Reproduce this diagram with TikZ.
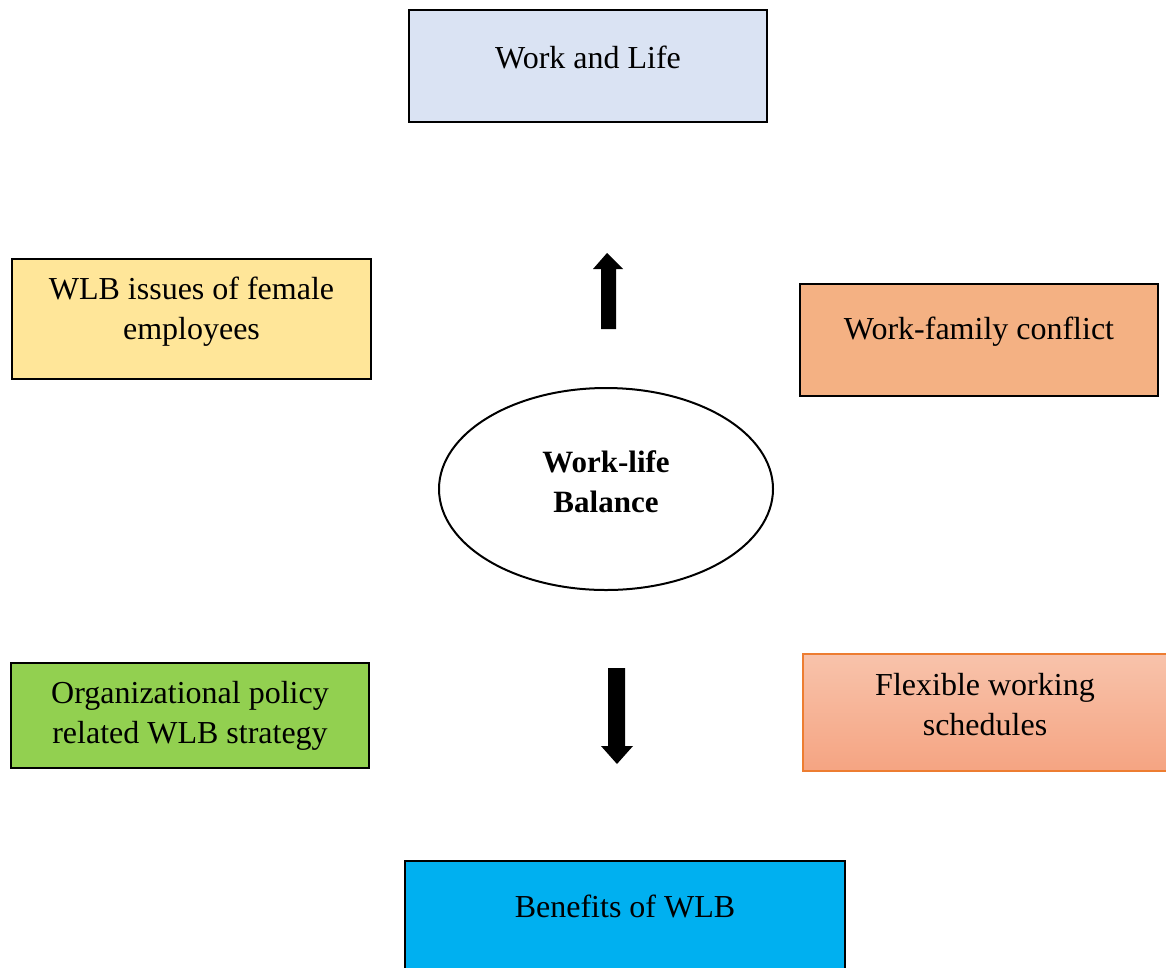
\documentclass[tikz,border=0pt]{standalone}
\usepackage{fontspec}
\setmainfont{Liberation Serif}
\usetikzlibrary{shapes.geometric}
\definecolor{cWL}{HTML}{DAE3F3}
\definecolor{cFem}{HTML}{FFE699}
\definecolor{cWFC}{HTML}{F4B183}
\definecolor{cOrg}{HTML}{92D050}
\definecolor{cFlexTop}{HTML}{F8C3AB}
\definecolor{cFlexBot}{HTML}{F5A482}
\definecolor{cFlexLine}{HTML}{ED7D31}
\definecolor{cBen}{HTML}{00B0F0}
\tikzset{
  box/.style={draw=black, line width=2pt, rectangle, inner sep=0pt},
  txt/.style={font=\fontsize{32}{40}\selectfont, align=center, inner sep=0pt},
  btxt/.style={font=\fontsize{31}{40}\selectfont\bfseries, align=center, inner sep=0pt},
  bigarrow/.style={fill=black},
}
\begin{document}
\begin{tikzpicture}[x=1pt,y=-1pt]
\useasboundingbox (0,0) rectangle (1166,967);
% boxes
\node[box, fill=cWL, minimum width=358pt, minimum height=112pt] (wl) at (588,66) {};
\node[txt] (wlt) at (588,57) {Work and Life};
\node[box, fill=cFem, minimum width=359pt, minimum height=120pt] (fem) at (191.5,319) {};
\node[txt] (femt) at (191.5,312) {WLB issues of female\\employees};
\node[box, fill=cWFC, minimum width=358pt, minimum height=112pt] (wfc) at (979,340) {};
\node[txt] (wfct) at (979,332) {Work-family conflict};
\node[box, fill=cOrg, minimum width=358pt, minimum height=105pt] (org) at (190,715.5) {};
\node[txt] (orgt) at (190,716) {Organizational policy\\related WLB strategy};
\node[rectangle, draw=cFlexLine, line width=1.5pt, top color=cFlexTop, bottom color=cFlexBot, minimum width=366pt, minimum height=117pt, inner sep=0pt] (flex) at (986,712.5) {};
\node[txt] (flext) at (985,705) {Flexible working\\schedules};
\node[box, fill=cBen, minimum width=440pt, minimum height=130pt] (ben) at (625,926) {};
\node[txt] (bent) at (625,906) {Benefits of WLB};
% ellipse
\node[ellipse, draw=black, line width=2pt, fill=white, minimum width=334pt, minimum height=202pt, inner sep=0pt] (wlb) at (606,489) {};
\node[btxt] (wlbt) at (606,482) {Work-life\\Balance};
% arrows
\fill[bigarrow] (607,253) -- (623,269) -- (616,269) -- (616,329) -- (601,329) -- (601,269) -- (593,269) -- cycle;
\fill[bigarrow] (608,668) -- (625,668) -- (625,746) -- (633,746) -- (617,764) -- (601,746) -- (608,746) -- cycle;
\end{tikzpicture}
\end{document}
